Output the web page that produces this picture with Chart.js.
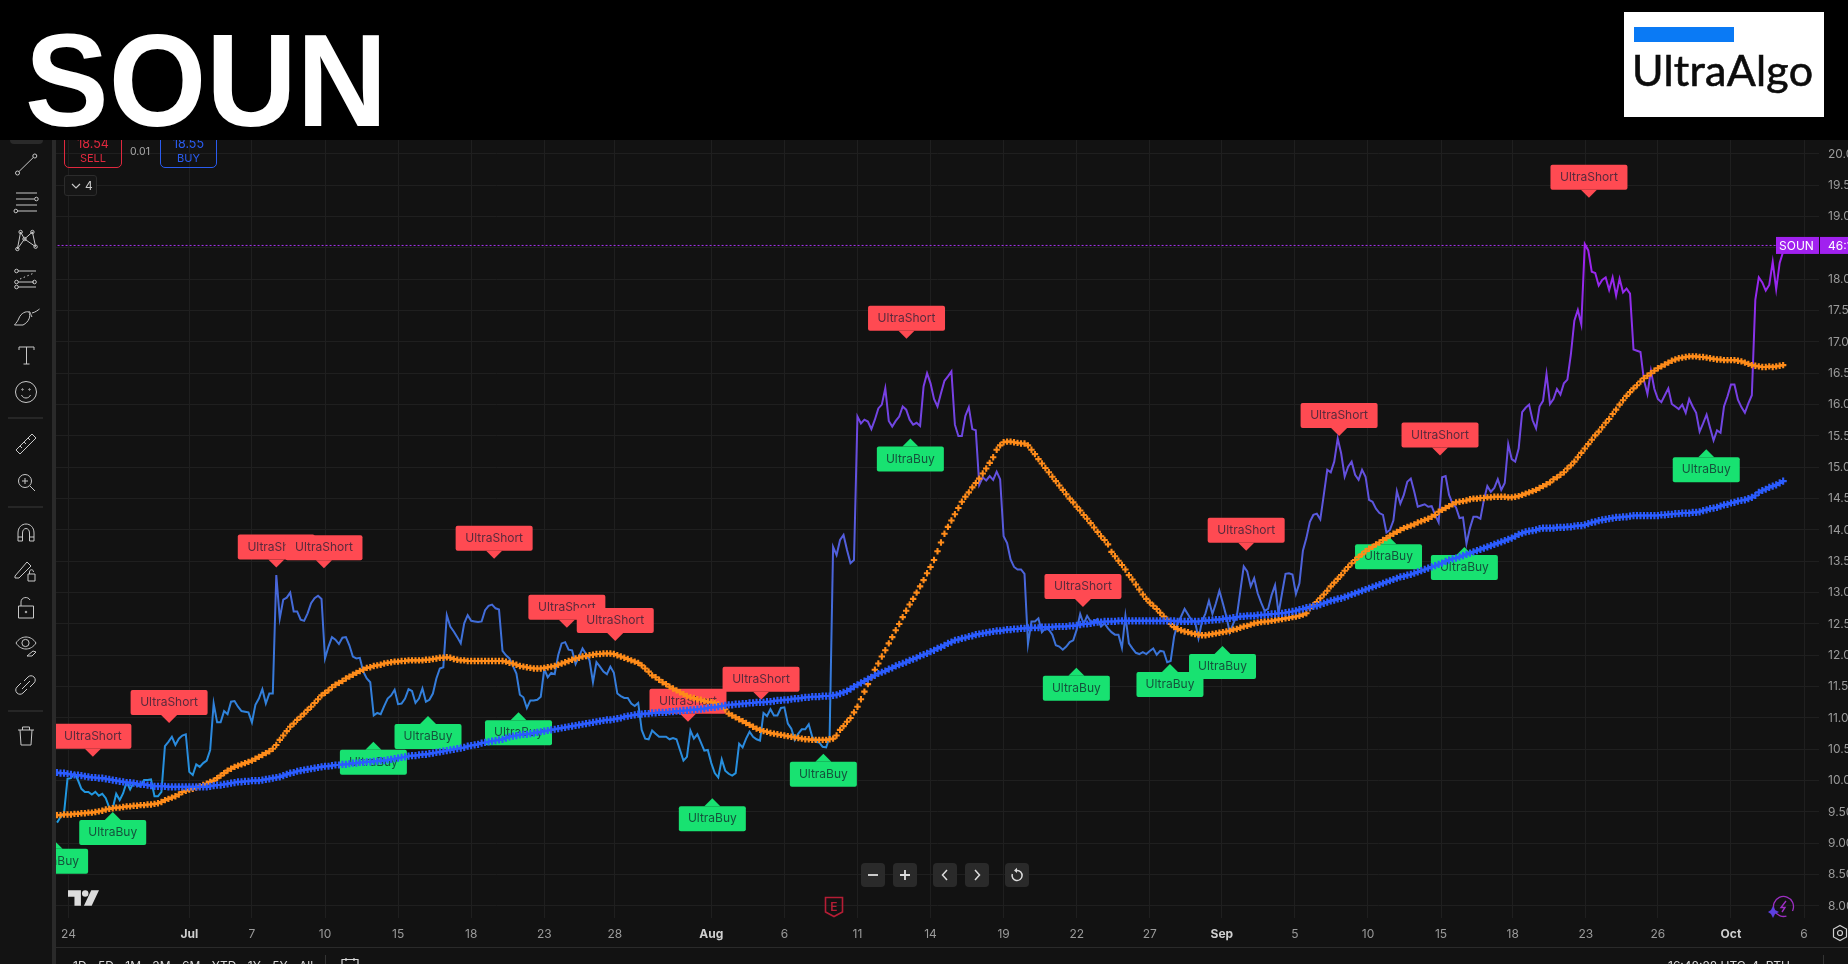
<!DOCTYPE html>
<html>
<head>
<meta charset="utf-8">
<title>SOUN</title>
<script src="https://cdn.jsdelivr.net/npm/chart.js@4/dist/chart.umd.min.js"></script>
<style>
  html, body { margin: 0; padding: 0; background: #121212; overflow: hidden; }
  body { width: 1848px; height: 964px; position: relative; font-family: Inter, Roboto, sans-serif; }
  #chart { position: absolute; left: 0; top: 0; }
  .abs { position: absolute; }
  #header { left: 0; top: 0; width: 1848px; height: 140px; background: #000; }
  #ticker { left: 24.5px; top: 15px; font: bold 132px/132px "Liberation Sans", Arial, sans-serif; color: #fff; transform: scaleX(0.95); transform-origin: left top; }
  #logo { left: 1624px; top: 12px; width: 200px; height: 105px; background: #fff; }
  #logo .bar { position: absolute; left: 10px; top: 15px; width: 100px; height: 15px; background: #0a7af5; }
  #logo .name { position: absolute; left: 8px; top: 32px; font: 400 43px/52px Lato, sans-serif; color: #0c0c0c; -webkit-text-stroke: 0.6px #0c0c0c; letter-spacing: 0.25px; }
  #toolbar { left: 0; top: 140px; width: 52px; height: 824px; background: #131313; }
  #divider { left: 52px; top: 140px; width: 4px; height: 824px; background: #2a2a2a; }
  #activeTool { left: 10px; top: 130px; width: 33px; height: 14px; background: #2a2a2a; border-radius: 4px; }
  .order { top: 126px; height: 42px; border: 1.5px solid; border-radius: 5px; box-sizing: border-box; text-align: center; font-size: 11px; }
  .order b { display: block; font-weight: 400; font-size: 12.5px; line-height: 14px; margin-top: 10px; }
  #sell { left: 64px; width: 58px; color: #e0283e; border-color: #e0283e; }
  #buy { left: 160px; width: 57px; color: #2a5cf0; border-color: #2a5cf0; }
  #spread { left: 130px; top: 145px; font-size: 10.5px; color: #a8a8a8; }
  #legendToggle { left: 64px; top: 175px; width: 33px; height: 21px; border: 1px solid #2c2c2c; border-radius: 3px; box-sizing: border-box; background: #161616; color: #c8c8c8; font-size: 12px; line-height: 20px; padding-left: 20px; }
  #legendToggle svg { position: absolute; left: 6px; top: 6px; }
  .btn { top: 863px; width: 24px; height: 24px; background: #2a2a2a; border-radius: 4px; }
  .btn svg { display: block; }
  #bottomRule { left: 56px; top: 947px; width: 1792px; height: 1px; background: #2a2a2a; }
  #ranges { left: 73px; top: 959px; font-size: 12px; line-height: 14px; color: #d8d8d8; word-spacing: 8px; white-space: nowrap; }
  #clock { left: 1668px; top: 959px; font-size: 12px; line-height: 14px; color: #d8d8d8; white-space: nowrap; }
  #rangeSep { left: 325px; top: 955px; width: 1px; height: 9px; background: #333; }
  #clockSep { left: 1823px; top: 955px; width: 1px; height: 9px; background: #333; }
</style>
</head>
<body>
<canvas id="chart" width="1848" height="964"></canvas>

<div class="abs" id="toolbar"></div>
<div class="abs" id="divider"></div>
<div class="abs" id="activeTool"></div>

<div class="abs order" id="sell"><b>18.54</b>SELL</div>
<div class="abs" id="spread">0.01</div>
<div class="abs order" id="buy"><b>18.55</b>BUY</div>
<div class="abs" id="legendToggle"><svg width="10" height="8" viewBox="0 0 10 8"><path d="M1 2l4 4 4-4" fill="none" stroke="#c8c8c8" stroke-width="1.2"/></svg>4</div>

<svg class="abs" style="left:0;top:140px" width="52" height="824" viewBox="0 140 52 824" fill="none" stroke="#c8c8c8" stroke-width="1">
  <!-- trend line -->
  <circle cx="17.5" cy="173" r="2"/><circle cx="34.8" cy="156" r="2"/><path d="M19 171.5L33.3 157.5"/>
  <!-- fib lines -->
  <path d="M16 193H37M16 199H34M16 205H37M18 211H37"/><circle cx="36.4" cy="199" r="1.8"/><circle cx="15.8" cy="211" r="1.8"/>
  <!-- pattern -->
  <path d="M20.6 232L24.5 239L17.4 249M32.4 232L24.5 239L35.6 246.7M20.6 232L17.4 249M32.4 232L35.6 246.7"/>
  <circle cx="20.6" cy="232" r="1.7"/><circle cx="32.4" cy="232" r="1.7"/><circle cx="24.5" cy="239" r="1.7"/><circle cx="17.4" cy="249" r="1.7"/><circle cx="35.6" cy="246.7" r="1.7"/>
  <!-- forecast -->
  <path d="M18 271H36M18 282H34M18 287H36"/><path d="M20 279L34 273" stroke-dasharray="1.5 2.5"/>
  <circle cx="16.5" cy="271" r="1.8"/><circle cx="16.5" cy="282" r="1.8"/><circle cx="34.5" cy="282" r="1.8"/><circle cx="16.5" cy="287" r="1.8"/>
  <!-- brush -->
  <path d="M14.5 325H23C29 322 31 316 29 312C26 311 21 313 19 318C18 321 16 323 14.5 325ZM29 312C30 310 31 316 32 317M32 313C36 312 38 310 39.5 309"/>
  <!-- text -->
  <path d="M19 347H34M26.5 347V364M23.5 364H29.5M19 347V350M34 347V350"/>
  <!-- smile -->
  <circle cx="26" cy="392" r="10.5"/><path d="M21.5 395C23 399 29 399 30.5 395"/><circle cx="22.5" cy="389.5" r=".7"/><circle cx="29.5" cy="389.5" r=".7"/>
  <path d="M8 418H43" stroke="#3a3a3a"/>
  <!-- ruler -->
  <path d="M16 450L32 434L36 438L20 454ZM20 446l2 2M24 442l2 2M28 438l2 2"/>
  <!-- zoom -->
  <circle cx="25" cy="481" r="6.5"/><path d="M30 486L35 491M25 478V484M22 481H28"/>
  <path d="M8 507H43" stroke="#3a3a3a"/>
  <!-- magnet -->
  <path d="M18 541V533C18 521 34 521 34 533V541H29.5V533C29.5 527 22.5 527 22.5 533V541ZM18 537H22.5M29.5 537H34"/>
  <!-- drawing lock -->
  <path d="M15 576L27 562L31 566L19 578L15 578ZM28 574h7v7h-7zM29.5 574v-2c0-3 4-3 4 0"/>
  <!-- lock -->
  <path d="M18.5 606h15v12h-15zM21 606v-4c0-5 7-6 9-2"/><circle cx="26" cy="612" r=".8"/>
  <!-- eye -->
  <path d="M16 643C21 635 31 635 36 643C31 651 21 651 16 643Z"/><circle cx="25.5" cy="643" r="3.6"/><path d="M27 656l6-5 3 1-4 4z"/>
  <!-- link -->
  <path d="M21 683l-4 4a4 4 0 0 0 6 6l4-4M30 687l4-4a4 4 0 0 0-6-6l-4 4M22 689l8-8"/>
  <path d="M8 711H43" stroke="#3a3a3a"/>
  <!-- trash -->
  <path d="M18 730H34M20 730L21 745H31L32 730M22.5 730V727H29.5V730"/>
</svg>

<div class="abs btn" style="left:861px"><svg width="24" height="24"><path d="M7 12H17" stroke="#ddd" stroke-width="1.8"/></svg></div>
<div class="abs btn" style="left:893px"><svg width="24" height="24"><path d="M7 12H17M12 7V17" stroke="#ddd" stroke-width="1.8"/></svg></div>
<div class="abs btn" style="left:933px"><svg width="24" height="24"><path d="M14 7L9.5 12L14 17" stroke="#ddd" stroke-width="1.5" fill="none"/></svg></div>
<div class="abs btn" style="left:965px"><svg width="24" height="24"><path d="M10 7L14.5 12L10 17" stroke="#ddd" stroke-width="1.5" fill="none"/></svg></div>
<div class="abs btn" style="left:1005px"><svg width="24" height="24" fill="none" stroke="#ddd" stroke-width="1.5"><path d="M12 7.5A5 5 0 1 1 7.3 11"/><path d="M12 4.8V10L9 7.5Z" fill="#ddd" stroke="none"/></svg></div>

<svg class="abs" style="left:824px;top:896px" width="20" height="22" fill="none"><path d="M1.5 1.5H18.5V16L10 20.5L1.5 16Z" stroke="#b51d35" stroke-width="1.6"/><text x="10" y="14.5" font-size="12" font-family="Inter" font-weight="600" text-anchor="middle" fill="#b51d35" stroke="none">E</text></svg>

<svg class="abs" style="left:68px;top:890px" width="31" height="16" viewBox="0 0 36 18" fill="#dcdcdc"><path d="M0 0H15V18H7.5V7.5H0ZM20 7.5a3.7 3.7 0 1 0 0-7.5a3.7 3.7 0 0 0 0 7.5ZM27 0H36L27.5 18H18.5Z"/></svg>

<svg class="abs" style="left:1768px;top:895px" width="28" height="24" fill="none"><circle cx="15.5" cy="11.5" r="10" stroke="#9c2fc2" stroke-width="1.3" stroke-dasharray="48 8" transform="rotate(110 15.5 11.5)"/><path d="M18 6L13 12.5H17L14 17" stroke="#9c2fc2" stroke-width="1.4"/><path d="M5 11L7 15L11 17L7 19L5 23L3 19L0 17L3 15Z" fill="#5b3fe0"/></svg>

<div class="abs" id="bottomRule"></div>
<div class="abs" id="rangeSep"></div>
<div class="abs" id="clockSep"></div>
<div class="abs" id="ranges">1D 5D 1M 3M 6M YTD 1Y 5Y All</div>
<svg class="abs" style="left:341px;top:957px" width="18" height="8" fill="none" stroke="#d8d8d8" stroke-width="1.2"><path d="M1 8V2.5H17V8M5 1V4M13 1V4"/></svg>
<div class="abs" id="clock">16:48:28 UTC-4&nbsp; RTH</div>
<svg class="abs" style="left:1832px;top:924px" width="16" height="18" fill="none" stroke="#cfcfcf" stroke-width="1.2"><path d="M8 1.5L14.5 5V13L8 16.5L1.5 13V5Z"/><circle cx="8" cy="9" r="2.5"/></svg>

<div class="abs" id="header">
  <div class="abs" id="ticker">SOUN</div>
  <div class="abs" id="logo"><div class="bar"></div><div class="name">UltraAlgo</div></div>
</div>

<script>
// bar 0 is the 24 Jun open, seven hourly bars per session
const firstBar = -3;

const tickBars = [0.3, 35, 53, 74, 95, 116, 137, 157.3, 185, 206, 227, 248, 269, 290, 311, 331.7, 352.7, 373.7, 394.7, 415.3, 436.3, 457, 478, 499];
const tickLabels = ["24", "Jul", "7", "10", "15", "18", "23", "28", "Aug", "6", "11", "14", "19", "22", "27", "Sep", "5", "10", "15", "18", "23", "26", "Oct", "6"];
const monthLabels = ["Jul", "Aug", "Sep", "Oct"];
const priceTicks = [8, 8.5, 9, 9.5, 10, 10.5, 11, 11.5, 12, 12.5, 13, 13.5, 14, 14.5, 15, 15.5, 16, 16.5, 17, 17.5, 18, 18.5, 19, 19.5, 20];
const lastPrice = 18.54;

const closes = [
  9.33,9.42,9.48,10.03,10.04,10.12,10.01,9.87,9.82,9.82,
  9.78,9.82,9.76,9.79,9.72,9.57,9.56,9.79,9.69,9.80,
  9.98,9.86,9.97,9.92,9.92,10.01,10.01,10.02,9.75,9.75,
  9.82,10.55,10.62,10.70,10.57,10.67,10.72,10.74,10.14,10.09,
  10.26,10.22,10.28,10.32,10.49,11.23,10.93,10.93,11.11,11.06,
  11.26,11.27,11.18,11.11,11.10,11.09,10.93,11.21,11.31,11.46,
  11.23,11.39,11.39,13.28,12.59,12.89,12.92,13.00,12.70,12.70,
  12.57,12.55,12.67,12.83,12.91,12.95,12.90,11.95,12.14,12.29,
  12.25,12.18,12.28,12.29,12.16,11.98,11.95,11.96,11.74,11.63,
  11.57,11.04,11.08,11.06,11.19,11.31,11.36,11.45,11.22,11.23,
  11.31,11.46,11.43,11.24,11.31,11.47,11.26,11.29,11.39,11.63,
  11.79,11.81,12.64,12.46,12.38,12.29,12.19,12.51,12.64,12.55,
  12.54,12.53,12.54,12.72,12.79,12.81,12.75,12.73,12.07,12.00,
  11.95,11.83,11.71,11.37,11.33,11.16,11.28,11.28,11.29,11.34,
  11.78,11.65,11.72,11.70,12.00,12.19,12.21,12.09,12.08,11.86,
  11.98,12.11,12.02,11.92,11.57,11.89,11.82,11.74,11.70,11.82,
  11.72,11.39,11.35,11.32,11.32,11.23,11.19,11.24,10.81,10.67,
  10.66,10.80,10.75,10.70,10.70,10.70,10.66,10.68,10.66,10.49,
  10.32,10.38,10.80,10.67,10.74,10.61,10.48,10.49,10.28,10.12,
  10.05,10.34,10.16,10.11,10.08,10.12,10.59,10.53,10.67,10.78,
  10.70,10.66,10.64,11.08,11.03,11.14,11.04,11.04,11.16,11.17,
  10.91,10.83,10.65,10.75,10.82,10.82,10.90,10.70,10.62,10.61,
  10.54,10.53,10.70,13.73,13.60,13.84,13.92,13.68,13.47,13.52,
  15.81,15.70,15.76,15.73,15.61,15.76,15.94,16.00,16.26,15.74,
  15.65,15.74,15.81,15.97,15.92,15.76,15.68,15.71,15.66,16.29,
  16.50,16.34,16.09,15.97,16.18,16.38,16.45,16.53,15.68,15.50,
  15.50,15.82,15.96,15.61,15.59,14.72,14.84,14.79,14.86,14.80,
  14.93,14.81,13.90,13.79,13.53,13.41,13.37,13.37,13.30,12.18,
  12.54,12.54,12.59,12.37,12.43,12.41,12.33,12.16,12.14,12.09,
  12.14,12.21,12.24,12.41,12.66,12.50,12.63,12.54,12.54,12.58,
  12.46,12.51,12.43,12.37,12.33,12.33,12.12,12.63,12.19,12.11,
  12.04,12.02,12.05,12.02,12.07,12.11,12.01,12.07,12.06,11.89,
  11.91,12.30,12.51,12.62,12.74,12.65,12.56,12.54,12.27,12.54,
  12.67,12.87,12.66,12.83,13.03,12.83,12.62,12.36,12.51,12.62,
  13.02,13.42,13.34,13.10,13.23,12.99,12.84,12.71,12.74,12.96,
  13.12,12.67,12.99,13.30,13.31,13.29,12.98,13.15,13.67,13.87,
  14.13,14.24,14.26,14.17,14.56,14.96,14.92,15.09,15.46,15.22,
  14.85,15.01,15.09,14.88,14.80,14.96,14.85,14.48,14.45,14.34,
  14.27,14.24,13.96,14.00,14.15,14.62,14.42,14.56,14.77,14.82,
  14.61,14.37,14.39,14.41,14.37,14.38,14.24,14.12,14.84,14.86,
  14.56,14.42,14.36,14.19,14.20,13.78,14.03,14.21,14.21,14.18,
  14.48,14.70,14.61,14.67,14.81,14.64,14.75,15.37,15.13,15.09,
  15.30,15.88,15.95,16.00,15.75,15.62,15.97,16.06,16.49,16.01,
  16.09,16.25,16.16,16.34,16.40,16.80,17.34,17.51,17.28,18.56,
  18.46,18.12,18.10,17.90,17.99,18.03,17.83,18.03,17.74,18.01,
  17.79,17.85,17.77,16.88,16.86,16.84,16.39,16.17,16.54,16.25,
  16.09,16.04,16.15,16.26,16.01,15.97,15.93,16.00,15.87,16.09,
  15.97,15.87,15.57,15.70,15.84,15.63,15.43,15.59,15.55,15.97,
  16.13,16.32,16.32,16.08,15.96,15.87,16.02,16.15,17.67,18.03,
  17.95,17.82,17.91,18.28,17.84,18.26,18.44,18.54
];

const ultraFast = [
  9.45,9.45,9.46,9.46,9.46,9.47,9.47,9.48,9.48,9.49,
  9.49,9.50,9.51,9.52,9.54,9.55,9.56,9.57,9.57,9.58,
  9.59,9.59,9.60,9.60,9.61,9.61,9.62,9.62,9.63,9.64,
  9.66,9.69,9.71,9.73,9.75,9.78,9.82,9.84,9.86,9.87,
  9.89,9.91,9.93,9.95,9.98,10.00,10.04,10.08,10.12,10.16,
  10.19,10.22,10.24,10.26,10.28,10.30,10.32,10.35,10.38,10.41,
  10.44,10.47,10.51,10.57,10.65,10.72,10.79,10.86,10.91,10.97,
  11.02,11.07,11.13,11.18,11.24,11.30,11.36,11.40,11.44,11.49,
  11.53,11.56,11.59,11.63,11.66,11.69,11.72,11.75,11.77,11.80,
  11.81,11.83,11.84,11.85,11.87,11.88,11.89,11.90,11.90,11.91,
  11.91,11.92,11.92,11.92,11.92,11.92,11.93,11.93,11.94,11.95,
  11.96,11.96,11.97,11.96,11.94,11.93,11.92,11.92,11.91,11.91,
  11.91,11.91,11.91,11.91,11.91,11.91,11.91,11.91,11.91,11.90,
  11.88,11.87,11.85,11.83,11.82,11.81,11.80,11.79,11.79,11.79,
  11.80,11.81,11.82,11.83,11.85,11.87,11.89,11.91,11.93,11.95,
  11.96,11.98,11.99,12.00,12.01,12.02,12.02,12.03,12.03,12.03,
  12.02,12.00,11.98,11.96,11.94,11.92,11.90,11.88,11.84,11.79,
  11.74,11.68,11.65,11.61,11.57,11.54,11.50,11.47,11.44,11.41,
  11.38,11.35,11.33,11.32,11.30,11.29,11.27,11.26,11.25,11.24,
  11.22,11.18,11.14,11.07,11.04,11.01,10.98,10.95,10.92,10.89,
  10.86,10.83,10.81,10.79,10.78,10.76,10.75,10.74,10.73,10.72,
  10.71,10.70,10.69,10.68,10.67,10.66,10.66,10.65,10.65,10.65,
  10.65,10.65,10.66,10.67,10.72,10.81,10.87,10.94,11.00,11.09,
  11.18,11.30,11.42,11.54,11.65,11.77,11.87,11.98,12.08,12.19,
  12.29,12.40,12.50,12.61,12.71,12.81,12.90,13.00,13.10,13.20,
  13.31,13.41,13.52,13.66,13.80,13.94,14.05,14.15,14.25,14.35,
  14.45,14.53,14.60,14.68,14.75,14.82,14.90,14.98,15.07,15.16,
  15.28,15.35,15.40,15.41,15.41,15.40,15.39,15.38,15.38,15.35,
  15.28,15.21,15.13,15.06,14.99,14.92,14.85,14.78,14.71,14.64,
  14.57,14.50,14.44,14.37,14.31,14.24,14.18,14.11,14.04,13.97,
  13.90,13.84,13.77,13.65,13.58,13.51,13.44,13.37,13.28,13.21,
  13.13,13.05,12.97,12.90,12.84,12.79,12.74,12.68,12.62,12.57,
  12.50,12.45,12.42,12.40,12.38,12.37,12.35,12.34,12.33,12.32,
  12.32,12.33,12.34,12.35,12.36,12.37,12.38,12.39,12.41,12.42,
  12.44,12.46,12.47,12.49,12.51,12.52,12.53,12.54,12.54,12.55,
  12.56,12.57,12.58,12.59,12.60,12.61,12.62,12.63,12.65,12.67,
  12.75,12.80,12.85,12.91,12.97,13.03,13.10,13.16,13.22,13.28,
  13.35,13.41,13.47,13.52,13.57,13.61,13.66,13.70,13.73,13.77,
  13.80,13.84,13.87,13.91,13.94,13.97,14.00,14.03,14.05,14.07,
  14.09,14.12,14.14,14.16,14.18,14.21,14.24,14.29,14.32,14.35,
  14.38,14.41,14.44,14.45,14.46,14.47,14.49,14.50,14.50,14.51,
  14.51,14.52,14.52,14.53,14.53,14.53,14.53,14.52,14.52,14.53,
  14.54,14.56,14.58,14.60,14.62,14.64,14.67,14.70,14.73,14.76,
  14.81,14.84,14.88,14.92,14.98,15.03,15.09,15.16,15.23,15.30,
  15.37,15.44,15.51,15.57,15.64,15.71,15.77,15.85,15.92,16.00,
  16.07,16.14,16.20,16.26,16.31,16.37,16.42,16.46,16.50,16.54,
  16.58,16.61,16.64,16.67,16.70,16.72,16.74,16.75,16.76,16.77,
  16.77,16.77,16.76,16.76,16.75,16.74,16.73,16.72,16.72,16.71,
  16.71,16.71,16.71,16.70,16.69,16.67,16.65,16.63,16.62,16.61,
  16.60,16.60,16.61,16.60,16.61,16.62,16.63
];

const ultraSlow = [
  10.13,10.12,10.12,10.11,10.10,10.09,10.09,10.08,10.07,10.06,
  10.05,10.05,10.04,10.04,10.03,10.02,10.01,10.00,9.99,9.98,
  9.97,9.97,9.96,9.95,9.94,9.94,9.93,9.92,9.91,9.91,
  9.91,9.91,9.90,9.90,9.90,9.90,9.90,9.90,9.90,9.90,
  9.90,9.90,9.90,9.90,9.91,9.92,9.93,9.93,9.94,9.95,
  9.96,9.97,9.98,9.98,9.99,9.99,10.00,10.00,10.00,10.01,
  10.02,10.03,10.04,10.05,10.06,10.08,10.10,10.12,10.13,10.15,
  10.16,10.17,10.18,10.19,10.20,10.21,10.22,10.23,10.23,10.24,
  10.25,10.25,10.26,10.26,10.27,10.28,10.28,10.29,10.29,10.30,
  10.30,10.31,10.31,10.32,10.32,10.33,10.34,10.35,10.36,10.37,
  10.38,10.39,10.40,10.40,10.41,10.42,10.42,10.43,10.44,10.45,
  10.46,10.47,10.48,10.49,10.50,10.51,10.52,10.53,10.55,10.56,
  10.57,10.58,10.60,10.61,10.62,10.63,10.64,10.65,10.66,10.68,
  10.70,10.71,10.72,10.73,10.74,10.74,10.75,10.76,10.77,10.78,
  10.79,10.80,10.81,10.82,10.83,10.84,10.85,10.86,10.87,10.88,
  10.89,10.90,10.91,10.92,10.93,10.94,10.95,10.96,10.97,10.97,
  10.98,10.99,11.00,11.02,11.03,11.04,11.05,11.06,11.06,11.07,
  11.07,11.08,11.08,11.09,11.09,11.09,11.10,11.10,11.11,11.11,
  11.12,11.12,11.13,11.13,11.14,11.14,11.15,11.16,11.17,11.17,
  11.18,11.19,11.20,11.21,11.21,11.22,11.22,11.23,11.23,11.24,
  11.24,11.25,11.25,11.25,11.26,11.26,11.27,11.28,11.28,11.29,
  11.29,11.30,11.31,11.31,11.32,11.33,11.33,11.34,11.34,11.34,
  11.35,11.35,11.35,11.36,11.37,11.39,11.41,11.43,11.46,11.50,
  11.53,11.56,11.59,11.62,11.65,11.68,11.71,11.73,11.75,11.78,
  11.80,11.83,11.85,11.87,11.89,11.92,11.94,11.96,11.99,12.01,
  12.03,12.06,12.08,12.11,12.13,12.16,12.19,12.21,12.24,12.25,
  12.27,12.28,12.30,12.31,12.33,12.34,12.35,12.36,12.37,12.38,
  12.39,12.39,12.40,12.41,12.41,12.42,12.42,12.43,12.43,12.44,
  12.44,12.44,12.44,12.45,12.45,12.45,12.45,12.46,12.46,12.46,
  12.46,12.47,12.47,12.48,12.49,12.50,12.50,12.51,12.52,12.53,
  12.53,12.54,12.54,12.54,12.54,12.55,12.55,12.55,12.55,12.55,
  12.55,12.55,12.55,12.55,12.55,12.55,12.55,12.55,12.55,12.55,
  12.55,12.55,12.54,12.54,12.54,12.54,12.54,12.54,12.54,12.55,
  12.55,12.56,12.56,12.57,12.57,12.58,12.59,12.59,12.60,12.61,
  12.62,12.62,12.63,12.63,12.63,12.64,12.64,12.65,12.65,12.66,
  12.66,12.67,12.67,12.68,12.69,12.70,12.71,12.73,12.74,12.76,
  12.77,12.78,12.79,12.81,12.83,12.85,12.87,12.88,12.90,12.91,
  12.93,12.95,12.97,12.99,13.01,13.03,13.05,13.07,13.09,13.11,
  13.13,13.15,13.17,13.19,13.21,13.23,13.25,13.26,13.28,13.29,
  13.31,13.33,13.35,13.37,13.39,13.41,13.43,13.45,13.47,13.50,
  13.52,13.54,13.55,13.57,13.59,13.61,13.63,13.65,13.67,13.69,
  13.71,13.73,13.75,13.77,13.79,13.81,13.83,13.85,13.87,13.90,
  13.93,13.95,13.97,13.98,13.99,14.00,14.02,14.03,14.03,14.03,
  14.03,14.04,14.04,14.04,14.05,14.05,14.06,14.07,14.07,14.08,
  14.10,14.12,14.13,14.15,14.16,14.17,14.18,14.19,14.20,14.20,
  14.21,14.21,14.22,14.23,14.23,14.23,14.23,14.23,14.23,14.23,
  14.23,14.24,14.24,14.25,14.25,14.26,14.26,14.27,14.27,14.27,
  14.28,14.28,14.29,14.31,14.32,14.34,14.35,14.36,14.38,14.40,
  14.41,14.43,14.44,14.46,14.47,14.48,14.50,14.52,14.55,14.60,
  14.63,14.65,14.68,14.70,14.72,14.75,14.78
];

// signal tips: bar and price the little arrow points at
const shortBars = [7.3, 29.2, 60, 73.7, 122.6, 143.5, 157.4, 178.3, 199.3, 241.1, 291.8, 338.7, 365.4, 394.4, 437.2];
const shortPrices = [10.38, 10.92, 13.40, 13.39, 13.54, 12.44, 12.23, 10.94, 11.29, 17.05, 12.77, 13.67, 15.50, 15.19, 19.30];
const buyBars = [-3.7, 13, 87.9, 103.6, 129.6, 185.3, 217.2, 242.2, 289.9, 316.8, 331.9, 379.6, 401.4, 470.9];
const buyPrices = [9.04, 9.50, 10.62, 11.03, 11.09, 9.72, 10.43, 15.46, 11.80, 11.86, 12.15, 13.90, 13.73, 15.29];

const asPoints = (vals) => vals.map((y, i) => ({ x: i + firstBar, y }));

function roundBox(c, x, y, w, h, r) {
  c.beginPath();
  c.roundRect(x, y, w, h, r);
  c.fill();
}

function drawSignal(chart, bar, price, isShort) {
  const { ctx: c, scales } = chart;
  const px = scales.x.getPixelForValue(bar);
  const py = scales.y.getPixelForValue(price);
  const w = isShort ? 77 : 67;
  const h = 25, tail = 8;
  const top = isShort ? py - tail - h : py + tail;
  c.fillStyle = isShort ? "#ff4a52" : "#18e271";
  roundBox(c, px - w / 2, top, w, h, 2);
  c.beginPath();
  if (isShort) {
    c.moveTo(px - 8, py - tail); c.lineTo(px, py); c.lineTo(px + 8, py - tail);
  } else {
    c.moveTo(px - 8, py + tail); c.lineTo(px, py); c.lineTo(px + 8, py + tail);
  }
  c.fill();
  c.fillStyle = isShort ? "#5a2a3c" : "#14533c";
  c.font = "12px Inter, Roboto, sans-serif";
  c.textAlign = "center";
  c.textBaseline = "middle";
  c.fillText(isShort ? "UltraShort" : "UltraBuy", px, top + h / 2);
}

const signalPlugin = {
  id: "signals",
  beforeDatasetsDraw(chart) {
    const { ctx: c, chartArea: a } = chart;
    c.save();
    c.beginPath();
    c.rect(a.left, a.top, a.right - a.left, a.bottom - a.top);
    c.clip();
    shortBars.forEach((b, i) => drawSignal(chart, b, shortPrices[i], true));
    buyBars.forEach((b, i) => drawSignal(chart, b, buyPrices[i], false));
    c.restore();
  }
};

const lastPriceTag = {
  id: "lastPriceTag",
  afterDraw(chart) {
    const { ctx: c, scales } = chart;
    const py = scales.y.getPixelForValue(lastPrice);
    c.save();
    c.fillStyle = "#a121ef";
    c.fillRect(1776, py - 8.5, 43, 17);
    c.fillRect(1820, py - 8.5, 28, 17);
    c.fillStyle = "#fff";
    c.font = "12px Inter, Roboto, sans-serif";
    c.textAlign = "left";
    c.textBaseline = "middle";
    c.fillText("SOUN", 1779, py + 0.5);
    c.fillText("46:12", 1828, py + 0.5);
    c.restore();
  }
};

function priceGradient(ctx) {
  const chart = ctx.chart;
  if (!chart.chartArea) return "#3f6ed8";
  const y = chart.scales.y;
  const g = chart.ctx.createLinearGradient(0, y.getPixelForValue(18.5), 0, y.getPixelForValue(9.5));
  g.addColorStop(0, "#a020f0");
  g.addColorStop(0.35, "#6a4be0");
  g.addColorStop(0.67, "#3f6ed8");
  g.addColorStop(1, "#1e9be0");
  return g;
}

new Chart(document.getElementById("chart"), {
  type: "line",
  data: {
    datasets: [
      { label: "Slow", data: asPoints(ultraSlow), showLine: false, pointStyle: "cross", pointRadius: 3.6, borderWidth: 2.1, borderColor: "#2b5cff", backgroundColor: "#2b5cff" },
      { label: "Fast", data: asPoints(ultraFast), showLine: false, pointStyle: "cross", pointRadius: 3.2, borderWidth: 2.1, borderColor: "#ff8c1a", backgroundColor: "#ff8c1a" },
      { label: "SOUN", data: asPoints(closes), borderColor: priceGradient, borderWidth: 2, pointRadius: 0, tension: 0 },
      { label: "Last", data: [{ x: -4, y: lastPrice }, { x: 504, y: lastPrice }], borderColor: "#a832f2", borderWidth: 1, borderDash: [2, 2], pointRadius: 0 }
    ]
  },
  plugins: [signalPlugin, lastPriceTag],
  options: {
    responsive: false,
    animation: false,
    devicePixelRatio: 1,
    layout: { padding: { left: 56, top: 140, right: 0, bottom: 0 } },
    plugins: { legend: { display: false }, tooltip: { enabled: false } },
    scales: {
      x: {
        type: "linear",
        min: -3.3,
        max: 503.3,
        afterBuildTicks: (s) => { s.ticks = tickBars.map((v) => ({ value: v })); },
        afterFit: (s) => { s.height = 46; },
        grid: { color: "#1f1f1f", drawTicks: false },
        border: { display: false },
        ticks: {
          autoSkip: false,
          maxRotation: 0,
          padding: 9,
          callback: (v) => tickLabels[tickBars.indexOf(v)],
          color: (c) => (monthLabels.includes(tickLabels[c.index]) ? "#cfcfcf" : "#9a9a9a"),
          font: (c) => ({ family: "Inter, Roboto, sans-serif", size: 12, weight: monthLabels.includes(tickLabels[c.index]) ? "bold" : "normal" })
        }
      },
      y: {
        type: "linear",
        position: "right",
        min: 7.8085,
        max: 20.2225,
        afterBuildTicks: (s) => { s.ticks = priceTicks.map((v) => ({ value: v })); },
        afterFit: (s) => { s.width = 29; },
        grid: { color: "#1f1f1f", drawTicks: false },
        border: { display: false },
        ticks: {
          padding: 9,
          crossAlign: "near",
          color: "#9a9a9a",
          font: { family: "Inter, Roboto, sans-serif", size: 12 },
          callback: (v) => v.toFixed(2)
        }
      }
    }
  }
});
</script>
</body>
</html>
